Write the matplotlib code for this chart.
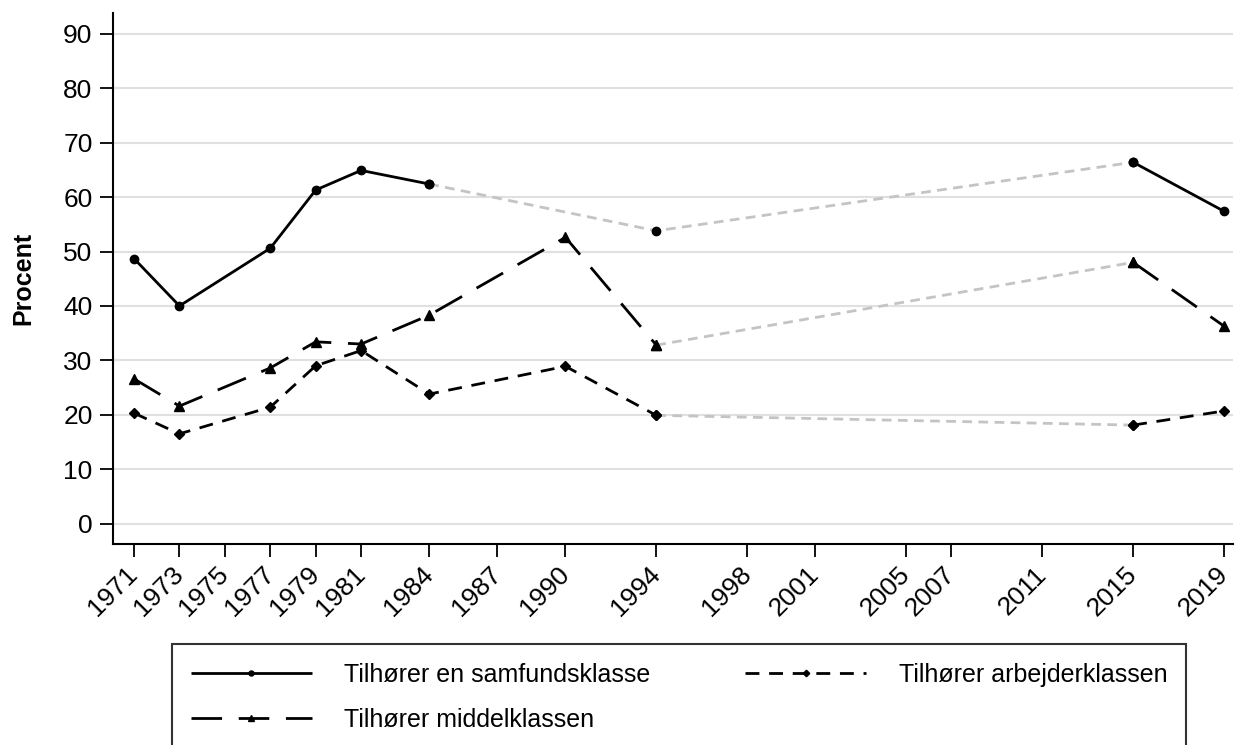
import numpy as np
import matplotlib
matplotlib.use("Agg")
import matplotlib.pyplot as plt

plt.rcParams['font.family'] = ['Liberation Sans', 'DejaVu Sans']

years = [1971, 1973, 1977, 1979, 1981, 1984, 1990, 1994, 2015, 2019]
samfund = [48.7, 40.0, 50.6, 61.3, 64.9, 62.4, np.nan, 53.8, 66.4, 57.4]
middel = [26.6, 21.6, 28.6, 33.4, 33.0, 38.3, 52.6, 32.8, 48.0, 36.3]
arbejder = [20.3, 16.5, 21.4, 29.0, 31.8, 23.8, 28.9, 19.9, 18.1, 20.7]

xticks = [1971, 1973, 1975, 1977, 1979, 1981, 1984, 1987, 1990, 1994,
          1998, 2001, 2005, 2007, 2011, 2015, 2019]
labels = ["Tilhører en samfundsklasse", "Tilhører middelklassen",
          "Tilhører arbejderklassen"]

yrs = np.array(years)
gray = "#c4c4c4"

fig = plt.figure(figsize=(12.37, 7.45), dpi=100)
ax = fig.add_axes([0.0911, 0.2694, 0.9057, 0.7126])

series = [
    (np.array(samfund), "o", 6, (0, ()), labels[0]),
    (np.array(middel), "^", 7, (0, (11, 6)), labels[1]),
    (np.array(arbejder), "D", 5.5, (0, (5, 3.5)), labels[2]),
]

handles = []
for vals, mk, ms, ls, lab in series:
    ok = ~np.isnan(vals)
    # the survey gap: 1994-2015 always gray, 1984-1994 too when 1990 is missing
    if np.isnan(vals[yrs == 1990][0]):
        seg1 = ok & (yrs <= 1984)
        bridge = ok & (yrs >= 1984) & (yrs <= 2015)
    else:
        seg1 = ok & (yrs <= 1994)
        bridge = ok & (yrs >= 1994) & (yrs <= 2015)
    seg2 = ok & (yrs >= 2015)
    ax.plot(yrs[bridge], vals[bridge], color=gray, lw=2,
            linestyle=(0, (3.5, 2.3)), zorder=2)
    h, = ax.plot(yrs[seg1], vals[seg1], color="black", lw=2, linestyle=ls,
                 marker=mk, markersize=ms, zorder=3, label=lab)
    ax.plot(yrs[seg2], vals[seg2], color="black", lw=2, linestyle=ls,
            marker=mk, markersize=ms, zorder=3)
    ax.plot(yrs[bridge], vals[bridge], linestyle="none", marker=mk,
            markersize=ms, color="black", zorder=4)
    handles.append(h)

ax.set_xlim(1970.06, 2019.4)
ax.set_ylim(-3.8, 93.75)
ax.set_yticks(range(0, 91, 10))
ax.set_xticks(xticks)
ax.set_xticklabels([str(x) for x in xticks], rotation=45, ha="right",
                   va="center", rotation_mode="anchor")
ax.tick_params(axis="both", labelsize=19, width=1.3, color="black")
ax.tick_params(axis="x", length=9, pad=10)
ax.tick_params(axis="y", length=9.5, pad=5)
ax.grid(axis="y", color="#e0e0e0", lw=1.5, zorder=0)
ax.set_axisbelow(True)
for s in ["top", "right"]:
    ax.spines[s].set_visible(False)
for s in ["left", "bottom"]:
    ax.spines[s].set_linewidth(1.5)

ax.set_ylabel("Procent", fontsize=18, fontweight="bold", labelpad=20)

leg = fig.legend(handles=handles, loc="upper left",
                 bbox_to_anchor=(172 / 1237, 1 - 644 / 745 - 0.01, 1014 / 1237, 0.01),
                 mode="expand", ncol=2, fontsize=18, frameon=True,
                 fancybox=False, edgecolor="black", handlelength=4.85,
                 handletextpad=1.3, labelspacing=0.85, borderpad=0.75,
                 borderaxespad=0, markerscale=0.6)
leg.get_frame().set_linewidth(1.5)

fig.savefig("out.png", dpi=100)
